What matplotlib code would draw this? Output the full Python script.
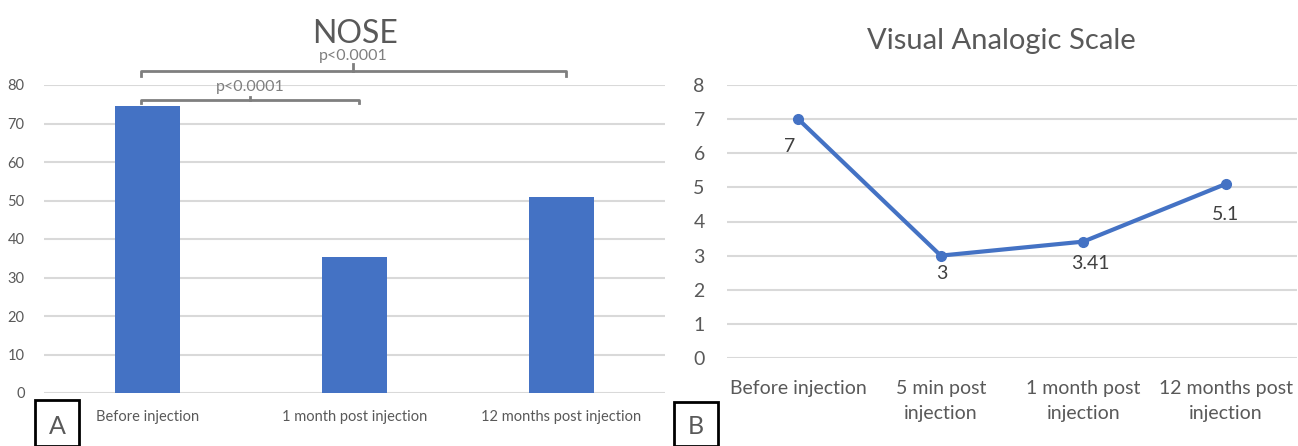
import matplotlib
matplotlib.use("Agg")
import matplotlib.pyplot as plt
from matplotlib.patches import Rectangle

plt.rcParams['font.family'] = ['Lato', 'DejaVu Sans']

# ----------------- data -----------------
nose_labels = ['Before injection', '1 month post injection', '12 months post injection']
nose_values = [74.6, 35.2, 51.0]
nose_ticks = [0, 10, 20, 30, 40, 50, 60, 70, 80]

vas_labels = ['Before injection', '5 min post\ninjection', '1 month post\ninjection', '12 months post\ninjection']
vas_values = [7, 3, 3.41, 5.1]
vas_texts = ['7', '3', '3.41', '5.1']
vas_ticks = [0, 1, 2, 3, 4, 5, 6, 7, 8]

# significance brackets: (start, end, text)
brackets = [(0, 1, 'p<0.0001'), (0, 2, 'p<0.0001')]

BLUE = '#4472C4'
GRID = '#D9D9D9'
TXT = '#595959'

W, H = 1298, 446
fig = plt.figure(figsize=(W / 100, H / 100), dpi=100)


def box(x0, y0, x1, y1):
    # pixel coords (top-left origin) -> figure fraction
    return [x0 / W, 1 - y1 / H, (x1 - x0) / W, (y1 - y0) / H]


# ----------------- A: NOSE bar chart -----------------
ax1 = fig.add_axes(box(44, 85, 665, 393))
x1 = list(range(len(nose_labels)))
ax1.bar(x1, nose_values, width=0.315, color=BLUE, zorder=3)
ax1.set_xlim(-0.5, len(nose_labels) - 0.5)
ax1.set_ylim(0, 80)
ax1.set_yticks(nose_ticks)
ax1.set_xticks(x1)
ax1.set_xticklabels(nose_labels, fontsize=10.5, color=TXT)
ax1.tick_params(axis='y', labelsize=10.5, labelcolor=TXT, length=0, pad=14)
ax1.tick_params(axis='x', length=0, pad=12)
ax1.yaxis.grid(True, color=GRID, lw=1.5, zorder=0)
for s in ax1.spines.values():
    s.set_visible(False)

levels = [(76.2, 75.2, 77.0, 79.5), (83.7, 82.3, 85.5, 87.6)]
for (a, b, t), (yb, ye, yc, yt) in zip(brackets, levels):
    xa = a - 0.03
    xb = b + 0.02
    xm = (xa + xb) / 2
    ax1.plot([xa, xa, xb, xb], [ye, yb, yb, ye], color='#7F7F7F', lw=2, clip_on=False, zorder=4)
    ax1.plot([xm, xm], [yb, yc], color='#7F7F7F', lw=2, clip_on=False, zorder=4)
    ax1.text(xm, yt, t, ha='center', va='center', fontsize=11.5, color='#7F7F7F')

fig.text(355 / W, 1 - 34 / H, 'NOSE', ha='center', va='center', fontsize=23, color=TXT)

# ----------------- B: VAS line chart -----------------
ax2 = fig.add_axes(box(727, 85, 1297, 358))
x2 = list(range(len(vas_labels)))
ax2.plot(x2, vas_values, color=BLUE, lw=3, marker='o', ms=7, zorder=3)
ax2.set_xlim(-0.5, len(vas_labels) - 0.5)
ax2.set_ylim(0, 8)
ax2.set_yticks(vas_ticks)
ax2.set_xticks(x2)
ax2.set_xticklabels(vas_labels, fontsize=14, color=TXT, linespacing=1.55)
ax2.tick_params(axis='y', labelsize=14, labelcolor=TXT, length=0, pad=16)
ax2.tick_params(axis='x', length=0, pad=16)
ax2.yaxis.grid(True, color=GRID, lw=1.5, zorder=0)
for s in ax2.spines.values():
    s.set_visible(False)

label_offsets = [(-6, -20), (1, -13), (5, -16), (0, -22)]
for xi, v, t, off in zip(x2, vas_values, vas_texts, label_offsets):
    ax2.annotate(t, (xi, v), xytext=off, textcoords='offset points',
                 ha='center', va='center', fontsize=14, color='#404040')

fig.text(1001 / W, 1 - 41 / H, 'Visual Analogic Scale', ha='center', va='center', fontsize=21, color=TXT)

# ----------------- panel letters -----------------
for (x0, y0, x1b, y1b), letter in [((35, 400, 79, 446), 'A'), ((674, 402, 718, 446), 'B')]:
    fig.patches.append(Rectangle((x0 / W, 1 - y1b / H), (x1b - x0) / W, (y1b - y0) / H,
                                 transform=fig.transFigure, fill=False, ec='black', lw=2))
    fig.text((x0 + x1b) / 2 / W, 1 - 427 / H, letter, ha='center', va='center', fontsize=18, color=TXT)

fig.savefig('out.png', dpi=100)
